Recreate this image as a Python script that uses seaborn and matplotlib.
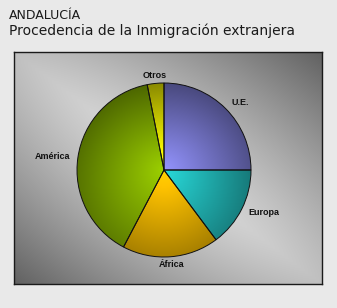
import numpy as np
import matplotlib
matplotlib.use("Agg")
import matplotlib.pyplot as plt
import seaborn as sns
from matplotlib.colors import to_rgb

# ---- data ----
labels = ['U.E.', 'Europa', 'África', 'América', 'Otros']
values = [25.0, 14.8, 17.9, 39.2, 3.1]
colors = ['#7272c4', '#1fa8a8', '#d4a200', '#78a000', '#d8d800']
title_line1 = 'ANDALUCÍA'
title_line2 = 'Procedencia de la Inmigración extranjera'

sns.set_theme(style="white")
plt.rcParams['font.family'] = ['DejaVu Sans']
palette = sns.color_palette(colors)

W, H = 337, 308
fig = plt.figure(figsize=(W / 100, H / 100), dpi=100)
fig.patch.set_facecolor('#e9e9e9')

# title
fig.text(9 / W, 1 - 19 / H, title_line1, fontsize=9.0, color='#1a1a1a',
         va='baseline', ha='left')
fig.text(9 / W, 1 - 35 / H, title_line2, fontsize=10.0, color='#1a1a1a',
         va='baseline', ha='left')

# background panel with diagonal gradient
px0, px1, py0, py1 = 14, 322, 52, 284
bg = fig.add_axes([px0 / W, 1 - py1 / H, (px1 - px0) / W, (py1 - py0) / H])
u = np.linspace(0, 1, 300)
v = np.linspace(0, 1, 230)
U, V = np.meshgrid(u, v)  # V: 0 top -> 1 bottom
d = np.abs(U - V)
s = U + V - 1
inten = 0.84 - 0.46 * d ** 1.2 - 0.09 * s ** 2
inten = np.clip(inten, 0, 1)
img = np.dstack([inten, inten, inten])
bg.imshow(img, extent=[0, 1, 0, 1], aspect='auto', origin='upper')
bg.set_xlim(0, 1)
bg.set_ylim(0, 1)
bg.set_xticks([])
bg.set_yticks([])
for sp in bg.spines.values():
    sp.set_color('#1a1a1a')
    sp.set_linewidth(1.0)

# pie
cx, cy, R = 164, 170, 87
half = 110
ax = fig.add_axes([(cx - half) / W, 1 - (cy + half) / H, 2 * half / W, 2 * half / H])
ax.set_facecolor('none')
wedges, texts = ax.pie(values, labels=labels, colors=palette, startangle=90,
                       counterclock=False, radius=1.0, labeldistance=1.09,
                       wedgeprops=dict(edgecolor='#111111', linewidth=0.7),
                       textprops=dict(fontsize=6.5, fontweight='bold',
                                      family='Liberation Sans', color='#111111'))

# labels near the vertical are centred
for w, t in zip(wedges, texts):
    mid = np.deg2rad((w.theta1 + w.theta2) / 2)
    if abs(np.cos(mid)) < 0.3:
        t.set_ha('center')

# radial shading inside each wedge
n = 300
g = np.linspace(-1, 1, n)
GX, GY = np.meshgrid(g, g[::-1])
rr = np.sqrt(GX ** 2 + GY ** 2)
for w, c in zip(wedges, palette):
    base = np.array(to_rgb(c))
    f = 1.30 - 0.58 * np.clip(rr, 0, 1) - 0.08 * GY
    shade = np.clip(base[None, None, :] * f[:, :, None], 0, 1)
    im = ax.imshow(shade, extent=[-1, 1, -1, 1], origin='upper', zorder=1)
    im.set_clip_path(w)
    w.set_facecolor('none')
    w.set_zorder(3)

lim = half / R
ax.set_xlim(-lim, lim)
ax.set_ylim(-lim, lim)
ax.set_aspect('equal')
ax.axis('off')

fig.savefig('out.png', dpi=100, facecolor=fig.get_facecolor())
